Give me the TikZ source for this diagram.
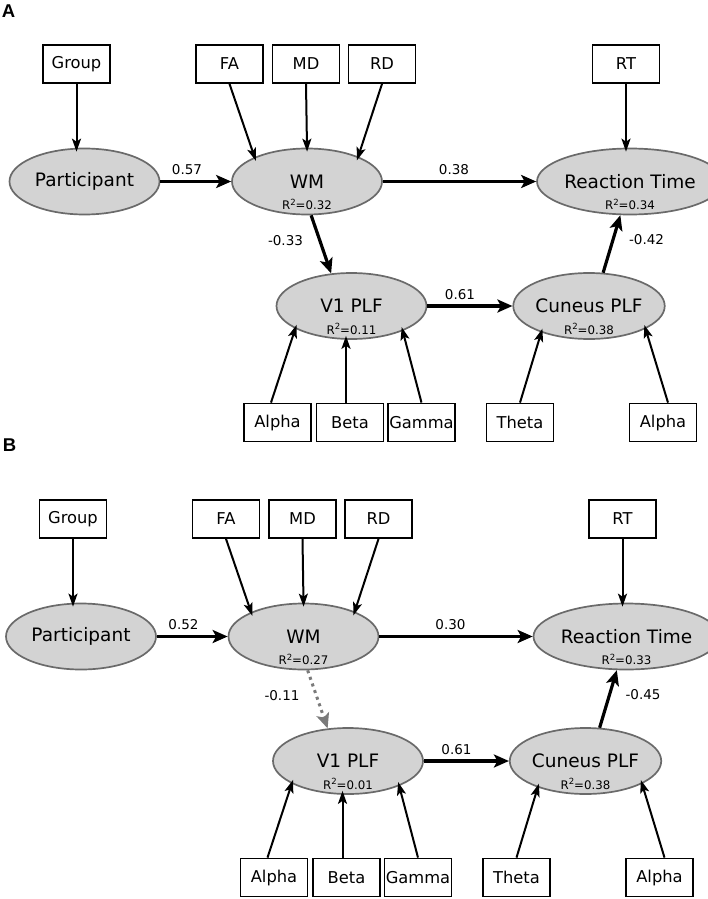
\documentclass[tikz,border=0pt]{standalone}
\usepackage{fontspec}
\setmainfont{DejaVu Sans}
\newfontfamily\letterfont{Liberation Sans}
\usetikzlibrary{shapes.geometric,arrows.meta}
\definecolor{efill}{HTML}{D3D3D3}
\definecolor{eline}{HTML}{6A6A6A}
\definecolor{dotgray}{HTML}{7A7A7A}
\newcommand\rsqtext[1]{R\raisebox{4.5pt}{\fontsize{8.5}{9}\selectfont 2}=#1}
\tikzset{
  lat/.style={ellipse, draw=eline, fill=efill, line width=1.7pt, minimum width=150pt, minimum height=66pt, inner sep=0pt, font=\fontsize{18.5}{20}\selectfont},
  obs/.style={rectangle, draw=black, fill=white, line width=1.8pt, minimum width=67pt, minimum height=38pt, inner sep=0pt, font=\fontsize{16.3}{18}\selectfont},
  rsq/.style={font=\fontsize{11.8}{12}\selectfont, inner sep=0pt},
  coef/.style={font=\fontsize{13.5}{14}\selectfont, inner sep=0pt},
  indarr/.style={line width=2pt, shorten >=-4pt, -{Stealth[length=13pt,width=9pt,inset=3pt]}},
  patharr/.style={line width=3.2pt, -{Stealth[length=15pt,width=13pt,inset=3.5pt]}},
  nsarr/.style={line width=3pt, draw=dotgray, dash pattern=on 3pt off 4pt, -{Stealth[length=15pt,width=13pt,inset=3.5pt,fill=dotgray]}},
  plabel/.style={font=\letterfont\bfseries\fontsize{18.5}{20}\selectfont, inner sep=0pt}
}
\begin{document}
\begin{tikzpicture}[x=1pt,y=-1pt]
\useasboundingbox (0,0) rectangle (707,899);

% ---------------- Panel A ----------------
\node[plabel] (labA) at (8.5,11) {A};
\begin{scope}
  \node[obs] (grpA) at (76.5,64) {Group};
  \node[obs] (faA) at (229.5,64) {FA};
  \node[obs] (mdA) at (306,64) {MD};
  \node[obs] (rdA) at (382,64) {RD};
  \node[obs] (rtoA) at (626,64) {RT};
  \node[lat] (partA) at (84.5,181.5) {Participant};
  \node[lat] (wmA) at (307,181.5) {WM};
  \node[lat] (rtA) at (630,181.5) {Reaction Time};
  \node[lat] (v1A) at (351.5,306) {V1 PLF};
  \node[lat] (cunA) at (589,306) {Cuneus PLF};
  \node[rsq] (wmrA) at (307,204.5) {\rsqtext{0.32}};
  \node[rsq] (rtrA) at (630,204.5) {\rsqtext{0.34}};
  \node[rsq] (v1rA) at (351.5,329) {\rsqtext{0.11}};
  \node[rsq] (cunrA) at (589,329) {\rsqtext{0.38}};
  \node[obs] (alA) at (277.5,422.5) {Alpha};
  \node[obs] (beA) at (350,422.5) {Beta};
  \node[obs] (gaA) at (421.5,422.5) {Gamma};
  \node[obs] (thA) at (520,422.5) {Theta};
  \node[obs] (al2A) at (663,422.5) {Alpha};
  % indicator arrows
  \draw[indarr] (grpA.south) -- (grpA.south |- partA.north);
  \draw[indarr] (faA.south) -- (wmA.155);
  \draw[indarr] (mdA.south) -- (wmA.north);
  \draw[indarr] (rdA.south) -- (wmA.26);
  \draw[indarr] (rtoA.south) -- (rtoA.south |- rtA.north);
  \draw[indarr] ([xshift=-6.5pt]alA.north) -- (v1A.202);
  \draw[indarr] ([xshift=-4pt]beA.north) -- ([xshift=-4pt]beA.north |- v1A.south);
  \draw[indarr] (gaA.north) -- (v1A.334);
  \draw[indarr] (thA.north) -- (cunA.209);
  \draw[indarr] ([xshift=5pt]al2A.north) -- (cunA.338);
  % structural paths
  \draw[patharr] (partA.east) -- (wmA.west);
  \draw[patharr] (wmA.east) -- (rtA.west);
  \draw[patharr] (wmA.-83) -- (v1A.122);
  \draw[patharr] (v1A.east) -- (cunA.west);
  \draw[patharr] (cunA.67) -- (rtA.254);
  \node[coef] (cA1) at (187,170) {0.57};
  \node[coef] (cA2) at (454,170) {0.38};
  \node[coef] (cA3) at (285.5,241) {-0.33};
  \node[coef] (cA4) at (460,295) {0.61};
  \node[coef] (cA5) at (646.5,240) {-0.42};
\end{scope}

% ---------------- Panel B ----------------
\node[plabel] (labB) at (9.5,445.5) {B};
\begin{scope}[shift={(-3.5,455)}]
  \node[obs] (grpB) at (76.5,64) {Group};
  \node[obs] (faB) at (229.5,64) {FA};
  \node[obs] (mdB) at (306,64) {MD};
  \node[obs] (rdB) at (382,64) {RD};
  \node[obs] (rtoB) at (626,64) {RT};
  \node[lat] (partB) at (84.5,181.5) {Participant};
  \node[lat] (wmB) at (307,181.5) {WM};
  \node[lat] (rtB) at (630,181.5) {Reaction Time};
  \node[lat] (v1B) at (351.5,306) {V1 PLF};
  \node[lat] (cunB) at (589,306) {Cuneus PLF};
  \node[rsq] (wmrB) at (307,204.5) {\rsqtext{0.27}};
  \node[rsq] (rtrB) at (630,204.5) {\rsqtext{0.33}};
  \node[rsq] (v1rB) at (351.5,329) {\rsqtext{0.01}};
  \node[rsq] (cunrB) at (589,329) {\rsqtext{0.38}};
  \node[obs] (alB) at (277.5,422.5) {Alpha};
  \node[obs] (beB) at (350,422.5) {Beta};
  \node[obs] (gaB) at (421.5,422.5) {Gamma};
  \node[obs] (thB) at (520,422.5) {Theta};
  \node[obs] (al2B) at (663,422.5) {Alpha};
  \draw[indarr] (grpB.south) -- (grpB.south |- partB.north);
  \draw[indarr] (faB.south) -- (wmB.155);
  \draw[indarr] (mdB.south) -- (wmB.north);
  \draw[indarr] (rdB.south) -- (wmB.26);
  \draw[indarr] (rtoB.south) -- (rtoB.south |- rtB.north);
  \draw[indarr] ([xshift=-6.5pt]alB.north) -- (v1B.202);
  \draw[indarr] ([xshift=-4pt]beB.north) -- ([xshift=-4pt]beB.north |- v1B.south);
  \draw[indarr] (gaB.north) -- (v1B.334);
  \draw[indarr] (thB.north) -- (cunB.209);
  \draw[indarr] ([xshift=5pt]al2B.north) -- (cunB.338);
  \draw[patharr] (partB.east) -- (wmB.west);
  \draw[patharr] (wmB.east) -- (rtB.west);
  \draw[nsarr] (wmB.-83) -- (v1B.122);
  \draw[patharr] (v1B.east) -- (cunB.west);
  \draw[patharr] (cunB.67) -- (rtB.254);
  \node[coef] (cB1) at (187,170) {0.52};
  \node[coef] (cB2) at (454,170) {0.30};
  \node[coef] (cB3) at (285.5,241) {-0.11};
  \node[coef] (cB4) at (460,295) {0.61};
  \node[coef] (cB5) at (646.5,240) {-0.45};
\end{scope}
\end{tikzpicture}
\end{document}
